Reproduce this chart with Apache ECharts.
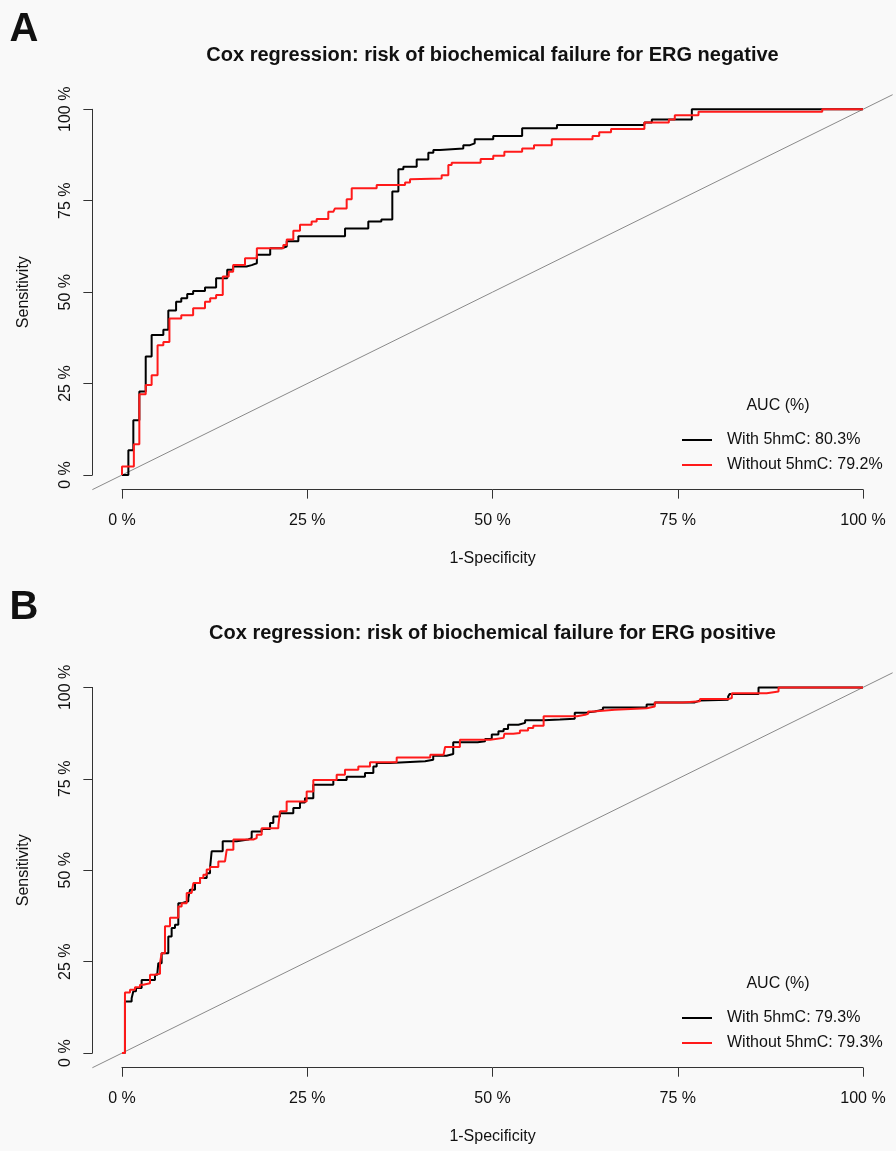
<!DOCTYPE html>
<html><head><meta charset="utf-8">
<script src="https://cdn.jsdelivr.net/npm/echarts@6/dist/echarts.min.js"></script>
<style>html,body{margin:0;padding:0;background:#f9f9f9}#c{width:896px;height:1151px}</style>
</head><body><div id="c"></div>
<script>
const FONT = '"Liberation Sans", Arial, Helvetica, sans-serif';
const tickValues = [0, 0.25, 0.5, 0.75, 1];
const tickLabels = ['0 %', '25 %', '50 %', '75 %', '100 %'];
const panelLetters = ['A', 'B'];
const panelTitles = [
  'Cox regression: risk of biochemical failure for ERG negative',
  'Cox regression: risk of biochemical failure for ERG positive'
];
const xAxisTitle = '1-Specificity';
const yAxisTitle = 'Sensitivity';
const legendTitle = 'AUC (%)';
const legendA = ['With 5hmC: 80.3%', 'Without 5hmC: 79.2%'];
const legendB = ['With 5hmC: 79.3%', 'Without 5hmC: 79.3%'];
const plotRange = [-0.04, 1.04];
const diagonal = [[-0.04, -0.04], [1.04, 1.04]];

// [1-specificity, sensitivity] at the start of each plateau
const rocA_with = [
  [0,0],[0.0086,0.068],[0.0153,0.150],[0.0234,0.228],[0.032,0.324],[0.040,0.383],[0.0558,0.397],
  [0.0625,0.450],[0.073,0.474],[0.080,0.483],[0.088,0.495],[0.096,0.503],[0.112,0.513],[0.127,0.538],
  [0.142,0.561],[0.150,0.570],[0.168,0.574],[0.175,0.579],[0.182,0.602],[0.200,0.620],[0.2155,0.625],
  [0.2223,0.639],[0.238,0.653],[0.301,0.674],[0.3324,0.693],[0.350,0.699],[0.3648,0.775],[0.373,0.836],
  [0.3797,0.843],[0.3977,0.863],[0.4134,0.881],[0.4202,0.889],[0.4291,0.893],[0.4606,0.902],[0.4696,0.907],
  [0.476,0.918],[0.501,0.927],[0.540,0.948],[0.587,0.957],[0.705,0.964],[0.715,0.972],[0.769,1.0],[1.0,1.0]
];
const rocA_without = [
  [0,0],[0,0.023],[0.016,0.084],[0.0234,0.221],[0.032,0.246],[0.040,0.273],[0.048,0.355],[0.0558,0.364],
  [0.064,0.428],[0.080,0.437],[0.096,0.456],[0.112,0.474],[0.119,0.483],[0.127,0.492],[0.136,0.543],
  [0.144,0.556],[0.150,0.574],[0.166,0.593],[0.182,0.620],[0.2177,0.629],[0.2223,0.644],[0.2312,0.668],
  [0.2402,0.684],[0.2559,0.693],[0.2627,0.700],[0.2784,0.720],[0.2852,0.723],[0.2874,0.729],[0.3032,0.754],
  [0.310,0.784],[0.3437,0.793],[0.382,0.800],[0.3887,0.809],[0.391,0.811],[0.4314,0.820],[0.4404,0.848],
  [0.4449,0.854],[0.484,0.864],[0.501,0.873],[0.516,0.884],[0.540,0.893],[0.556,0.902],[0.580,0.918],
  [0.635,0.927],[0.644,0.937],[0.660,0.946],[0.705,0.964],[0.738,0.972],[0.746,0.984],[0.778,0.993],
  [0.945,1.0],[1.0,1.0]
];
const rocB_with = [
  [0,0],[0.004,0.141],[0.013,0.150],[0.0153,0.169],[0.0189,0.178],[0.0265,0.200],[0.0445,0.214],
  [0.0475,0.219],[0.049,0.246],[0.0535,0.273],[0.0625,0.319],[0.067,0.342],[0.0715,0.351],[0.076,0.410],
  [0.0805,0.415],[0.0895,0.424],[0.0918,0.447],[0.0985,0.465],[0.1053,0.479],[0.1143,0.492],[0.1188,0.506],
  [0.121,0.552],[0.1359,0.579],[0.1548,0.584],[0.1705,0.588],[0.175,0.606],[0.1885,0.613],[0.1998,0.629],
  [0.2042,0.647],[0.2132,0.656],[0.2312,0.670],[0.2402,0.685],[0.2469,0.697],[0.2582,0.734],[0.2852,0.747],
  [0.3032,0.756],[0.3279,0.766],[0.3392,0.784],[0.3437,0.793],[0.3617,0.798],[0.409,0.802],[0.420,0.813],
  [0.438,0.818],[0.447,0.850],[0.480,0.853],[0.490,0.859],[0.499,0.871],[0.508,0.880],[0.515,0.886],
  [0.521,0.898],[0.535,0.903],[0.544,0.910],[0.569,0.912],[0.591,0.914],[0.611,0.931],[0.627,0.934],
  [0.638,0.939],[0.649,0.945],[0.708,0.953],[0.719,0.959],[0.773,0.964],[0.780,0.966],[0.818,0.975],
  [0.820,0.982],[0.859,1.0],[1.0,1.0]
];
const rocB_without = [
  [0,0],[0.004,0.166],[0.0108,0.173],[0.0175,0.180],[0.0243,0.187],[0.0288,0.191],[0.0378,0.214],
  [0.0445,0.217],[0.0513,0.246],[0.0535,0.273],[0.058,0.347],[0.0648,0.370],[0.076,0.401],[0.0805,0.410],
  [0.0873,0.438],[0.094,0.440],[0.0963,0.465],[0.1053,0.479],[0.1098,0.488],[0.1143,0.502],[0.1188,0.509],
  [0.130,0.524],[0.139,0.529],[0.1413,0.556],[0.1503,0.584],[0.1773,0.588],[0.1818,0.597],[0.1885,0.615],
  [0.211,0.622],[0.2132,0.661],[0.2222,0.688],[0.2492,0.715],[0.2582,0.747],[0.2897,0.761],[0.3009,0.775],
  [0.3189,0.784],[0.3347,0.795],[0.3707,0.808],[0.416,0.816],[0.434,0.820],[0.436,0.837],[0.456,0.857],
  [0.497,0.862],[0.515,0.866],[0.516,0.873],[0.528,0.875],[0.537,0.882],[0.548,0.889],[0.555,0.895],
  [0.569,0.921],[0.614,0.925],[0.625,0.928],[0.629,0.934],[0.636,0.939],[0.665,0.943],[0.708,0.948],
  [0.719,0.959],[0.757,0.962],[0.780,0.968],[0.818,0.971],[0.823,0.984],[0.870,0.989],[0.886,1.0],[1.0,1.0]
];

const panels = [
  { top: 109.3, dy: 0, names: legendA, withD: rocA_with, withoutD: rocA_without },
  { top: 687.4, dy: 578, names: legendB, withD: rocB_with, withoutD: rocB_without }
];
const GRID_LEFT = 122, GRID_W = 741, GRID_H = 365.7;
const TEXT = '#111';
const EXT = 0.04;

const fmt = v => {
  const i = tickValues.findIndex(t => Math.abs(t - v) < 1e-6);
  return i >= 0 ? tickLabels[i] : '';
};

const grid = [], xAxis = [], yAxis = [], series = [], legend = [], graphic = [];
panels.forEach((p, k) => {
  const g = grid.length;
  // visible axes grid: 0..1
  grid.push({ left: GRID_LEFT, top: p.top, width: GRID_W, height: GRID_H });
  // full plot region grid: -0.04..1.04 (for the reference diagonal)
  grid.push({ left: GRID_LEFT - GRID_W * EXT, top: p.top - GRID_H * EXT,
              width: GRID_W * (1 + 2 * EXT), height: GRID_H * (1 + 2 * EXT) });
  xAxis.push({
    gridIndex: g, type: 'value', min: 0, max: 1, interval: 0.25, position: 'bottom', offset: GRID_H * EXT,
    axisLine: { show: true, onZero: false, lineStyle: { color: '#333', width: 1 } },
    axisTick: { show: true, length: 9, lineStyle: { color: '#333', width: 1 } },
    axisLabel: { formatter: fmt, fontSize: 16, fontFamily: FONT, color: TEXT, margin: 23 },
    splitLine: { show: false },
    name: xAxisTitle, nameLocation: 'middle', nameGap: 61,
    nameTextStyle: { fontSize: 16, fontFamily: FONT, color: TEXT }
  });
  yAxis.push({
    gridIndex: g, type: 'value', min: 0, max: 1, interval: 0.25, position: 'left', offset: GRID_W * EXT,
    axisLine: { show: true, onZero: false, lineStyle: { color: '#333', width: 1 } },
    axisTick: { show: true, length: 9, lineStyle: { color: '#333', width: 1 } },
    axisLabel: { formatter: fmt, fontSize: 16, fontFamily: FONT, color: TEXT, margin: 19, rotate: 90 },
    splitLine: { show: false },
    name: yAxisTitle, nameLocation: 'middle', nameGap: 61, nameRotate: 90,
    nameTextStyle: { fontSize: 16, fontFamily: FONT, color: TEXT }
  });
  xAxis.push({ gridIndex: g + 1, type: 'value', min: plotRange[0], max: plotRange[1], show: false });
  yAxis.push({ gridIndex: g + 1, type: 'value', min: plotRange[0], max: plotRange[1], show: false });
  series.push({
    type: 'line', xAxisIndex: g + 1, yAxisIndex: g + 1, data: diagonal, symbol: 'none', clip: false,
    silent: true, lineStyle: { color: '#8a8a8a', width: 1 }, z: 1
  });
  series.push({
    type: 'line', name: p.names[0], xAxisIndex: g, yAxisIndex: g, data: p.withD, step: 'end',
    symbol: 'none', clip: false, lineStyle: { color: '#000000', width: 2 }, itemStyle: { color: '#000000' }, z: 2
  });
  series.push({
    type: 'line', name: p.names[1], xAxisIndex: g, yAxisIndex: g, data: p.withoutD, step: 'end',
    symbol: 'none', clip: false, lineStyle: { color: '#ff1a1a', width: 2 }, itemStyle: { color: '#ff1a1a' }, z: 3
  });
  legend.push({
    data: p.names, orient: 'vertical', left: 682, top: 430 + p.dy, padding: 0,
    itemWidth: 30, itemHeight: 2, itemGap: 5, icon: 'rect', selectedMode: false,
    textStyle: { fontSize: 16, fontFamily: FONT, color: TEXT, lineHeight: 20, padding: [0, 0, 0, 10] }
  });
  graphic.push({
    type: 'text', silent: true,
    style: { text: panelLetters[k], x: 24, y: 30 + p.dy, fill: '#111', font: 'bold 40px ' + FONT,
      textAlign: 'center', textVerticalAlign: 'middle', align: 'center', verticalAlign: 'middle' }
  });
  graphic.push({
    type: 'text', silent: true,
    style: { text: panelTitles[k], x: 492.5, y: 55 + p.dy, fill: '#111', font: 'bold 20px ' + FONT,
      textAlign: 'center', textVerticalAlign: 'middle', align: 'center', verticalAlign: 'middle' }
  });
  graphic.push({
    type: 'text', silent: true,
    style: { text: legendTitle, x: 778, y: 406 + p.dy, fill: TEXT, font: '16px ' + FONT,
      textAlign: 'center', textVerticalAlign: 'middle', align: 'center', verticalAlign: 'middle' }
  });
});

const chart = echarts.init(document.getElementById('c'), null, { renderer: 'canvas', width: 896, height: 1151 });
chart.setOption({
  backgroundColor: '#f9f9f9',
  animation: false,
  grid, xAxis, yAxis, series, legend, graphic
});
</script></body></html>
